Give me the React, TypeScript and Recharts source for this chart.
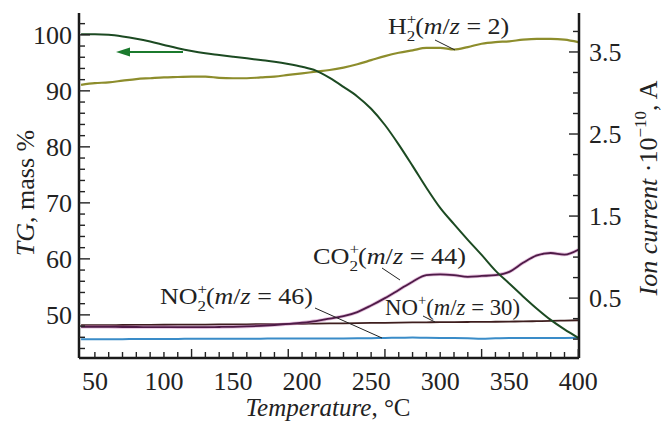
import React from 'react';
import { Line, LineChart, XAxis, YAxis } from 'recharts';

const temps = [
  40, 50, 60, 70, 80, 90, 100, 110, 120, 130, 140, 150, 160, 170, 180, 190, 200, 210, 220,
  230, 240, 250, 260, 270, 280, 290, 300, 310, 320, 330, 340, 350, 360, 370, 380, 390, 400,
];

// TG, mass % (left axis)
const tgMass = [
  100.1, 100.1, 100.0, 99.7, 99.3, 98.8, 98.2, 97.6, 97.1, 96.7, 96.4, 96.1, 95.8, 95.5, 95.2,
  94.8, 94.3, 93.6, 92.3, 90.7, 89.0, 86.8, 83.9, 80.4, 76.6, 72.7, 69.1, 66.2, 63.4, 60.7,
  57.9, 55.6, 53.3, 51.1, 49.1, 47.4, 45.9,
];

// ion currents, 10^-10 A (right axis)
const h2Current = [
  3.1, 3.12, 3.13, 3.15, 3.17, 3.18, 3.19, 3.195, 3.2, 3.2, 3.185, 3.18, 3.18, 3.19, 3.2,
  3.22, 3.24, 3.26, 3.28, 3.31, 3.35, 3.4, 3.45, 3.49, 3.52, 3.55, 3.55, 3.53, 3.56, 3.6,
  3.62, 3.63, 3.65, 3.66, 3.66, 3.65, 3.62,
];
const co2Current = [
  0.15, 0.15, 0.15, 0.148, 0.148, 0.147, 0.147, 0.146, 0.146, 0.146, 0.148, 0.15, 0.155,
  0.162, 0.172, 0.185, 0.2, 0.22, 0.25, 0.28, 0.33, 0.41, 0.5, 0.6, 0.7, 0.78, 0.79, 0.78,
  0.76, 0.77, 0.78, 0.82, 0.93, 1.02, 1.05, 1.03, 1.09,
];
const noCurrent = [
  0.17, 0.17, 0.171, 0.172, 0.173, 0.174, 0.175, 0.176, 0.177, 0.178, 0.179, 0.18, 0.181,
  0.182, 0.183, 0.185, 0.187, 0.189, 0.191, 0.193, 0.195, 0.197, 0.199, 0.201, 0.203, 0.205,
  0.207, 0.208, 0.209, 0.21, 0.212, 0.214, 0.216, 0.219, 0.222, 0.226, 0.23,
];
const no2Current = [
  0.0, 0.0, 0.0, 0.0, 0.002, 0.002, 0.003, 0.003, 0.004, 0.004, 0.005, 0.005, 0.006, 0.006,
  0.007, 0.007, 0.008, 0.008, 0.009, 0.009, 0.01, 0.012, 0.015, 0.016, 0.02, 0.016, 0.015,
  0.015, 0.012, 0.004, 0.01, 0.014, 0.015, 0.015, 0.015, 0.015, 0.016,
];

const xTicks = [
  50, 60, 70, 80, 90, 100, 110, 120, 130, 140, 150, 160, 170, 180, 190, 200, 210, 220, 230,
  240, 250, 260, 270, 280, 290, 300, 310, 320, 330, 340, 350, 360, 370, 380, 390, 400,
];
const xLongTicks = [120, 190, 260, 330, 400];
const xLabels = [50, 100, 150, 200, 250, 300, 350, 400];
const tgTicks = [
  44, 46, 48, 50, 52, 54, 56, 58, 60, 62, 64, 66, 68, 70, 72, 74, 76, 78, 80, 82, 84, 86, 88,
  90, 92, 94, 96, 98, 100, 102,
];
const tgLabels = [50, 60, 70, 80, 90, 100];
const ionTicks = [0, 0.25, 0.5, 0.75, 1, 1.25, 1.5, 1.75, 2, 2.25, 2.5, 2.75, 3, 3.25, 3.5, 3.75];
const ionLabels = [0.5, 1.5, 2.5, 3.5];

const data = temps.map((t, i) => ({
  t,
  tg: tgMass[i],
  h2: h2Current[i],
  co2: co2Current[i],
  no: noCurrent[i],
  no2: no2Current[i],
}));

const FONT = 'Liberation Serif, DejaVu Serif, serif';
const INK = '#222';

const XTick = ({ x, y, payload }: any) => {
  const v = payload.value;
  const len = xLongTicks.includes(v) ? 9 : 6;
  return (
    <g>
      <line x1={x} y1={y} x2={x} y2={y - len} stroke={INK} strokeWidth={1.4} />
      {xLabels.includes(v) && (
        <text x={x} y={y + 32} textAnchor="middle" fontSize={26} fontFamily={FONT} fill={INK}>
          {v}
        </text>
      )}
    </g>
  );
};

const TgTick = ({ x, y, payload }: any) => {
  const v = payload.value;
  const major = tgLabels.includes(v);
  return (
    <g>
      <line x1={x} y1={y} x2={x + (major ? 11 : 6)} y2={y} stroke={INK} strokeWidth={1.4} />
      {major && (
        <text x={x - 7} y={y + 9} textAnchor="end" fontSize={26} fontFamily={FONT} fill={INK}>
          {v}
        </text>
      )}
    </g>
  );
};

const IonTick = ({ x, y, payload }: any) => {
  const v = payload.value;
  const major = ionLabels.includes(v);
  return (
    <g>
      <line x1={x} y1={y} x2={x - (major ? 10 : 6)} y2={y} stroke={INK} strokeWidth={1.4} />
      {major && (
        <text x={x + 10} y={y + 9} textAnchor="start" fontSize={26} fontFamily={FONT} fill={INK}>
          {v.toFixed(1)}
        </text>
      )}
    </g>
  );
};

// ion label like NO2+(m/z = 46); sub and sup stacked
const IonLabel = ({ x, y, sx, base, sub, tail }: any) => (
  <g transform={`translate(${x},${y}) scale(${sx},1)`}>
    <text x={0} y={0} fontSize={23}>
      {base}
      <tspan fontSize={15} dy={-10}>+</tspan>
      {sub ? (
        <>
          <tspan fontSize={15} dx={-8.5} dy={17}>{sub}</tspan>
          <tspan dy={-7}>(</tspan>
        </>
      ) : (
        <tspan dy={10}>(</tspan>
      )}
      <tspan fontStyle="italic">m</tspan>/<tspan fontStyle="italic">z</tspan>
      {` = ${tail})`}
    </text>
  </g>
);

const axisLine = { stroke: '#1a1a1a', strokeWidth: 2.5 };

export default function App() {
  return (
    <div style={{ position: 'absolute', left: 0, top: 0, width: 667, height: 421, background: '#fff' }}>
      <LineChart width={667} height={421} data={data} margin={{ top: 13, right: 0, bottom: 0, left: 0 }}>
        <XAxis
          dataKey="t"
          type="number"
          domain={[38.5, 400.5]}
          allowDataOverflow
          ticks={xTicks}
          interval={0}
          height={63}
          tickSize={0}
          tickMargin={0}
          tickLine={false}
          axisLine={axisLine}
          tick={(p: any) => <XTick {...p} />}
        />
        <YAxis
          yAxisId="tg"
          orientation="left"
          type="number"
          domain={[42.3, 103.9]}
          allowDataOverflow
          ticks={tgTicks}
          interval={0}
          width={79}
          tickSize={0}
          tickMargin={0}
          tickLine={false}
          axisLine={axisLine}
          tick={(p: any) => <TgTick {...p} />}
        />
        <YAxis
          yAxisId="ion"
          orientation="right"
          type="number"
          domain={[-0.23, 3.975]}
          allowDataOverflow
          ticks={ionTicks}
          interval={0}
          width={88}
          tickSize={0}
          tickMargin={0}
          tickLine={false}
          axisLine={axisLine}
          tick={(p: any) => <IonTick {...p} />}
        />
        <Line yAxisId="ion" dataKey="no2" type="monotone" stroke="#3a8cc8" strokeWidth={2} dot={false} isAnimationActive={false} />
        <Line yAxisId="ion" dataKey="no" type="monotone" stroke="#3e1e1e" strokeWidth={1.8} dot={false} isAnimationActive={false} />
        <Line yAxisId="ion" dataKey="co2" type="monotone" stroke="#c87ab8" strokeWidth={3.5} strokeOpacity={0.5} dot={false} isAnimationActive={false} />
        <Line yAxisId="ion" dataKey="co2" type="monotone" stroke="#4e1b47" strokeWidth={1.8} dot={false} isAnimationActive={false} />
        <Line yAxisId="ion" dataKey="h2" type="monotone" stroke="#8d8d2c" strokeWidth={2.2} dot={false} isAnimationActive={false} />
        <Line yAxisId="tg" dataKey="tg" type="monotone" stroke="#1c4a22" strokeWidth={2} dot={false} isAnimationActive={false} />
      </LineChart>

      <svg
        width={667}
        height={421}
        style={{ position: 'absolute', left: 0, top: 0, pointerEvents: 'none' }}
        fontFamily={FONT}
        fill={INK}
      >
        {/* TG arrow -> left axis */}
        <line x1={183} y1={52} x2={126} y2={52} stroke="#1b7a2d" strokeWidth={2} />
        <polygon points="116,52 130,47.5 130,56.5" fill="#1b7a2d" />

        {/* annotations */}
        <IonLabel x={388} y={34} sx={1.13} base="H" sub="2" tail="2" />
        <line x1={435} y1={40} x2={455} y2={50} stroke={INK} strokeWidth={1} />

        <IonLabel x={313} y={264} sx={1.14} base="CO" sub="2" tail="44" />
        <line x1={382} y1={268} x2={400} y2={280} stroke={INK} strokeWidth={1} />

        <IonLabel x={160} y={304} sx={1.13} base="NO" sub="2" tail="46" />
        <line x1={315} y1={308} x2={382} y2={338} stroke={INK} strokeWidth={1} />

        <IonLabel x={385} y={315} sx={0.99} base="NO" tail="30" />
        <line x1={423} y1={316} x2={435} y2={322} stroke={INK} strokeWidth={1} />

        {/* axis titles */}
        <text x={328} y={416} fontSize={25} textAnchor="middle">
          <tspan fontStyle="italic">Temperature</tspan>, °C
        </text>
        <text transform="translate(34,193) rotate(-90)" fontSize={26} textAnchor="middle">
          <tspan fontStyle="italic">TG</tspan>, mass %
        </text>
        <text transform="translate(657,188) rotate(-90)" fontSize={26} textAnchor="middle">
          <tspan fontStyle="italic">Ion current</tspan> ·10
          <tspan fontSize={17} dy={-11}>−10</tspan>
          <tspan dy={11}>, A</tspan>
        </text>
      </svg>
    </div>
  );
}
